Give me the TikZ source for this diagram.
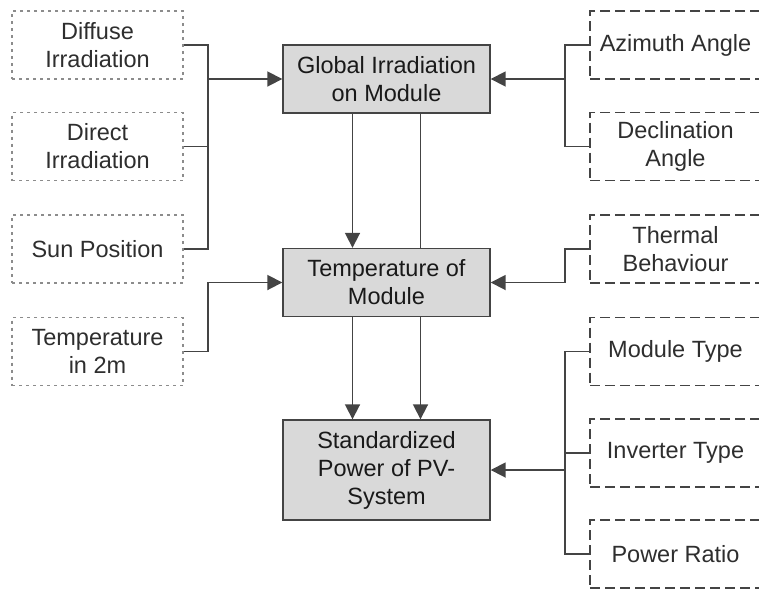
\documentclass[tikz,border=0pt]{standalone}
\usepackage{fontspec}
\setmainfont{Liberation Sans}
\usetikzlibrary{arrows.meta}

\definecolor{linegray}{HTML}{444444}
\definecolor{textgray}{HTML}{2E2E2E}
\definecolor{boxfill}{HTML}{D9D9D9}

\tikzset{
  inbox/.style={draw=black!45, dash pattern=on 3pt off 4pt, line width=1.2pt, minimum width=171pt, minimum height=68pt, align=center, text=textgray},
  parbox/.style={draw=linegray, dash pattern=on 10pt off 5pt, line width=1.2pt, minimum width=171pt, minimum height=68pt, align=center, text=textgray},
  procbox/.style={draw=linegray, fill=boxfill, line width=1.4pt, minimum width=207pt, minimum height=68pt, align=center, text=black!90},
  link/.style={draw=linegray, line width=1.8pt},
  feed/.style={link, arrows={-Triangle[length=15pt,width=15pt,linegray,fill=linegray]}}
}

\begin{document}
\begin{tikzpicture}[x=1pt, y=-1pt, font=\fontsize{23.5}{28}\selectfont]
\useasboundingbox (0,0) rectangle (759,590);

% inputs on the left
\node[inbox] (diffuse) at (97.5,45) {Diffuse\\Irradiation};
\node[inbox] (direct) at (97.5,146.5) {Direct\\Irradiation};
\node[inbox] (sunpos) at (97.5,249) {Sun Position};
\node[inbox] (airtemp) at (97.5,351.5) {Temperature\\in 2m};

% parameters on the right
\node[parbox] (azimuth) at (675.5,45) {Azimuth Angle};
\node[parbox] (declination) at (675.5,146.5) {Declination\\Angle};
\node[parbox] (thermal) at (675.5,249) {Thermal\\Behaviour};
\node[parbox] (modtype) at (675.5,351.5) {Module Type};
\node[parbox] (invtype) at (675.5,453) {Inverter Type};
\node[parbox] (powratio) at (675.5,554) {Power Ratio};

% model steps
\node[procbox] (globirr) at (386.5,79) {Global Irradiation\\on Module};
\node[procbox] (modtemp) at (386.5,282.5) {Temperature of\\Module};
\node[procbox, minimum height=100pt] (stdpower) at (386.5,470) {Standardized\\Power of PV-\\System};

\coordinate (lbus) at (208,0);
\coordinate (rbus) at (565,0);

% left side
\draw[link] (diffuse.east) -| (lbus |- sunpos.east) -- (sunpos.east);
\draw[link] (direct.east) -- (lbus |- direct.east);
\draw[feed] (lbus |- globirr.west) -- (globirr.west);
\draw[feed] (airtemp.east) -| (lbus |- modtemp.west) -- (modtemp.west);

% right side
\draw[link] (azimuth.west) -| (rbus |- declination.west) -- (declination.west);
\draw[feed] (rbus |- globirr.east) -- (globirr.east);
\draw[feed] (thermal.west) -| (rbus |- modtemp.east) -- (modtemp.east);
\draw[link] (modtype.west) -| (rbus |- powratio.west) -- (powratio.west);
\draw[link] (invtype.west) -- (rbus |- invtype.west);
\draw[feed] (rbus |- stdpower.east) -- (stdpower.east);

% down the middle
\draw[feed] ([xshift=-34pt]globirr.south) -- ([xshift=-34pt]modtemp.north);
\draw[link] ([xshift=34pt]globirr.south) -- ([xshift=34pt]modtemp.north);
\draw[feed] ([xshift=-34pt]modtemp.south) -- ([xshift=-34pt]stdpower.north);
\draw[feed] ([xshift=34pt]modtemp.south) -- ([xshift=34pt]stdpower.north);
\end{tikzpicture}
\end{document}
